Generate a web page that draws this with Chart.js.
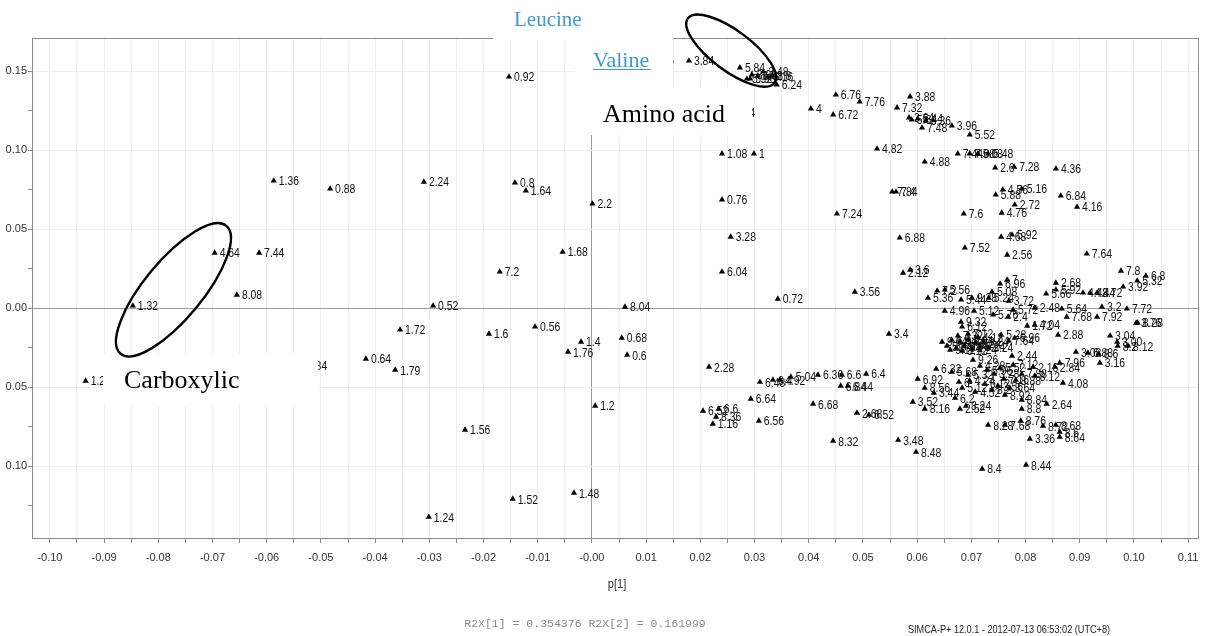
<!DOCTYPE html>
<html>
<head>
<meta charset="utf-8">
<script src="https://cdn.jsdelivr.net/npm/chart.js@4.4.0/dist/chart.umd.min.js"></script>
<style>
  html, body { margin: 0; padding: 0; background: #fff; }
</style>
</head>
<body>
<canvas id="scores-plot" width="1206" height="636"></canvas>
<script>
// score plot t[2] vs p[1], each point labelled with its ppm shift
// [label, p1, p2]
const leftScores = [
  ['1.36', -0.0587, 0.0806], ['0.88', -0.0483, 0.0755], ['2.24', -0.0310, 0.0799],
  ['0.92', -0.0153, 0.1464], ['0.8', -0.0142, 0.0793], ['1.64', -0.0122, 0.0743],
  ['4.64', -0.0696, 0.0350], ['7.44', -0.0614, 0.0350], ['8.08', -0.0655, 0.0084],
  ['1.32', -0.0847, 0.0015], ['1.28', -0.0934, -0.0460], ['1.84', -0.0535, -0.0365],
  ['0.64', -0.0417, -0.0321], ['1.79', -0.0363, -0.0391], ['1.72', -0.0354, -0.0137],
  ['7.2', -0.0170, 0.0230], ['0.52', -0.0293, 0.0015], ['1.6', -0.0190, -0.0163],
  ['0.56', -0.0105, -0.0118], ['1.68', -0.0054, 0.0356], ['1.4', -0.0020, -0.0213],
  ['1.76', -0.0044, -0.0277], ['1.56', -0.0234, -0.0770], ['1.52', -0.0146, -0.1207],
  ['1.48', -0.0033, -0.1169], ['1.24', -0.0301, -0.1321]
];

const centreScores = [
  ['2.2', 0.0001, 0.0660], ['8.04', 0.0061, 0.0008], ['0.68', 0.0055, -0.0188],
  ['0.6', 0.0065, -0.0296], ['1.2', 0.0006, -0.0618], ['1.08', 0.0240, 0.0977],
  ['1', 0.0299, 0.0977], ['0.76', 0.0240, 0.0686], ['3.28', 0.0256, 0.0451],
  ['6.04', 0.0240, 0.0230], ['0.72', 0.0343, 0.0059], ['2.28', 0.0216, -0.0372],
  ['6.52', 0.0205, -0.0650], ['6.6', 0.0234, -0.0637], ['8.36', 0.0229, -0.0688],
  ['1.16', 0.0223, -0.0732], ['6.64', 0.0293, -0.0574], ['6.56', 0.0308, -0.0713],
  ['6.48', 0.0310, -0.0467], ['6.4', 0.0334, -0.0454], ['4.92', 0.0347, -0.0454],
  ['5.04', 0.0367, -0.0435], ['7.04', 0.0255, 0.1236]
];

const valineScores = [
  ['3.76', 0.0105, 0.1565], ['3.84', 0.0179, 0.1565], ['5.84', 0.0273, 0.1521],
  ['5.92', 0.0286, 0.1451], ['5.96', 0.0292, 0.1451], ['3.98', 0.0295, 0.1477],
  ['6.08', 0.0306, 0.1470], ['3.48', 0.0316, 0.1496], ['6.16', 0.0325, 0.1464],
  ['1.8', 0.0332, 0.1470], ['6.24', 0.0341, 0.1413]
];

const upperRightScores = [
  ['4', 0.0404, 0.1262], ['6.76', 0.0450, 0.1350], ['6.72', 0.0445, 0.1224],
  ['7.76', 0.0494, 0.1306], ['3.88', 0.0587, 0.1338], ['7.32', 0.0563, 0.1268],
  ['3.64', 0.0585, 0.1205], ['5.64', 0.0590, 0.1192], ['5.44', 0.0601, 0.1198],
  ['6.36', 0.0616, 0.1186], ['7.48', 0.0609, 0.1141], ['3.96', 0.0664, 0.1154],
  ['5.52', 0.0697, 0.1097], ['4.82', 0.0526, 0.1008], ['4.88', 0.0614, 0.0926],
  ['7.44', 0.0675, 0.0977], ['7.68', 0.0697, 0.0977], ['5.08', 0.0712, 0.0977],
  ['5.48', 0.0731, 0.0977], ['2.6', 0.0744, 0.0888], ['7.28', 0.0779, 0.0894],
  ['4.36', 0.0856, 0.0882], ['4.56', 0.0758, 0.0749], ['5.16', 0.0793, 0.0755],
  ['5.88', 0.0745, 0.0717], ['2.72', 0.0780, 0.0654], ['6.84', 0.0865, 0.0711],
  ['4.16', 0.0895, 0.0641], ['7.84', 0.0554, 0.0736], ['7.4', 0.0561, 0.0736],
  ['7.24', 0.0452, 0.0597], ['7.6', 0.0686, 0.0597], ['4.76', 0.0756, 0.0603],
  ['6.88', 0.0568, 0.0445], ['7.52', 0.0688, 0.0382], ['4.68', 0.0755, 0.0451],
  ['5.92', 0.0775, 0.0464], ['2.56', 0.0766, 0.0337], ['7.64', 0.0913, 0.0344]
];

const midRightScores = [
  ['3.6', 0.0587, 0.0242], ['2.12', 0.0574, 0.0223], ['7.8', 0.0976, 0.0236],
  ['6.8', 0.1022, 0.0204], ['3.92', 0.0980, 0.0135], ['5.32', 0.1006, 0.0173],
  ['7', 0.0766, 0.0179], ['6.96', 0.0753, 0.0154], ['5.08', 0.0738, 0.0103],
  ['2.68', 0.0856, 0.0160], ['5.92', 0.0856, 0.0116], ['5.66', 0.0838, 0.0091],
  ['4.48', 0.0906, 0.0097], ['4.44', 0.0919, 0.0097], ['3.72', 0.0932, 0.0097],
  ['3.56', 0.0485, 0.0103], ['5.36', 0.0620, 0.0065], ['7.2', 0.0637, 0.0110],
  ['5.56', 0.0651, 0.0116], ['5.44', 0.0681, 0.0053], ['9.28', 0.0701, 0.0065],
  ['5.24', 0.0732, 0.0065], ['3.72', 0.0769, 0.0046], ['4.96', 0.0651, -0.0017],
  ['5.12', 0.0705, -0.0017], ['5.76', 0.0740, -0.0042], ['5.72', 0.0777, -0.0011],
  ['2.4', 0.0768, -0.0055], ['2.48', 0.0817, 0.0002], ['5.64', 0.0867, -0.0004],
  ['7.68', 0.0876, -0.0055], ['3.2', 0.0941, 0.0008], ['7.92', 0.0932, -0.0055],
  ['7.72', 0.0987, -0.0004], ['8.28', 0.1007, -0.0093], ['3.76', 0.1004, -0.0093],
  ['3.4', 0.0548, -0.0163], ['9.32', 0.0681, -0.0087], ['6.12', 0.0683, -0.0118],
  ['1.72', 0.0803, -0.0112], ['4.04', 0.0817, -0.0106], ['2.88', 0.0860, -0.0169],
  ['5.28', 0.0755, -0.0169], ['6.96', 0.0780, -0.0188], ['7.64', 0.0769, -0.0207],
  ['3.04', 0.0956, -0.0175], ['3.00', 0.0969, -0.0213]
];

const denseScores = [
  ['9.04', 0.0646, -0.0213], ['5.84', 0.0655, -0.0239], ['6.04', 0.0664, -0.0201],
  ['7.04', 0.0672, -0.0251], ['4.04', 0.0679, -0.0213], ['5.04', 0.0686, -0.0239],
  ['3.04', 0.0694, -0.0201], ['4.24', 0.0701, -0.0258], ['6.24', 0.0708, -0.0220],
  ['5.24', 0.0716, -0.0245], ['8.24', 0.0723, -0.0213], ['3.24', 0.0731, -0.0251],
  ['7.32', 0.0675, -0.0175], ['7.12', 0.0694, -0.0163], ['4.12', 0.0712, -0.0182],
  ['9.12', 0.0661, -0.0264], ['3.12', 0.0683, -0.0270]
];

const lowerRightScores = [
  ['6.36', 0.0417, -0.0422], ['6.6', 0.0461, -0.0422], ['6.4', 0.0506, -0.0416],
  ['6.44', 0.0472, -0.0492], ['6.84', 0.0459, -0.0492], ['6.68', 0.0408, -0.0606],
  ['2.68', 0.0489, -0.0663], ['6.52', 0.0511, -0.0675], ['8.32', 0.0445, -0.0840],
  ['3.48', 0.0565, -0.0834], ['8.48', 0.0598, -0.0910], ['8.4', 0.0720, -0.1017],
  ['8.44', 0.0801, -0.0992], ['6.32', 0.0635, -0.0384], ['6.92', 0.0601, -0.0448],
  ['8.56', 0.0614, -0.0504], ['3.44', 0.0631, -0.0536], ['6.2', 0.0670, -0.0568],
  ['5.68', 0.0664, -0.0403], ['6', 0.0677, -0.0467], ['4.24', 0.0697, -0.0460],
  ['3.52', 0.0592, -0.0593], ['8.16', 0.0614, -0.0637], ['2.52', 0.0679, -0.0637],
  ['8.24', 0.0690, -0.0618], ['8.28', 0.0731, -0.0739], ['7.68', 0.0762, -0.0739],
  ['8.76', 0.0791, -0.0713], ['8.72', 0.0832, -0.0745], ['8.68', 0.0856, -0.0739],
  ['3.36', 0.0808, -0.0827], ['8.64', 0.0863, -0.0815], ['8.6', 0.0863, -0.0783],
  ['8.84', 0.0793, -0.0580], ['8.8', 0.0793, -0.0637], ['2.64', 0.0839, -0.0606],
  ['4.08', 0.0869, -0.0473], ['2.84', 0.0854, -0.0372], ['7.96', 0.0863, -0.0346],
  ['3.08', 0.0893, -0.0277], ['6.88', 0.0915, -0.0283], ['8.6', 0.0935, -0.0289],
  ['3.16', 0.0937, -0.0346], ['8.2', 0.0970, -0.0239], ['8.12', 0.0989, -0.0239],
  ['2.44', 0.0775, -0.0302], ['7.12', 0.0777, -0.0359], ['2.16', 0.0814, -0.0372],
  ['8.12', 0.0817, -0.0429], ['9.26', 0.0703, -0.0327], ['4.28', 0.0716, -0.0365],
  ['5.96', 0.0729, -0.0391], ['3.28', 0.0742, -0.0416], ['5.52', 0.0753, -0.0378],
  ['7.16', 0.0760, -0.0448], ['3.56', 0.0749, -0.0492], ['8.2', 0.0738, -0.0517],
  ['3.64', 0.0771, -0.0504], ['8.88', 0.0782, -0.0454], ['7.88', 0.0793, -0.0416],
  ['6.12', 0.0725, -0.0479], ['8.92', 0.0762, -0.0549], ['5.32', 0.0694, -0.0422],
  ['5.12', 0.0683, -0.0504], ['4.52', 0.0707, -0.0530]
];

const p1Range = [-0.1033, 0.1120];
const p2Range = [-0.1454, 0.1709];

// hand drawn ellipses, centred in data units
const ellipses = [
  { p1: 0.0257, p2: 0.1629, rx: 54, ry: 20, rot: 0.64 },   // valine / leucine
  { p1: -0.0772, p2: 0.0116, rx: 83, ry: 29, rot: -0.88 }  // carboxylic
];

const SANS = "'Liberation Sans', Arial, sans-serif";
const SERIF = "'Liberation Serif', 'Times New Roman', serif";

function toPoints(rows) {
  return rows.map(([label, p1, p2]) => ({ x: p1, y: p2, label }));
}

// SIMCA exports use a condensed face, squeeze the text horizontally
function narrowText(ctx, text, x, y, sx) {
  ctx.save();
  ctx.translate(x, y);
  ctx.scale(sx, 1);
  ctx.fillText(text, 0, 0);
  ctx.restore();
}

const allGroups = [leftScores, centreScores, valineScores, upperRightScores,
  midRightScores, denseScores, lowerRightScores];

// frame around the plot area (chart.js only draws bottom/left)
const frame = {
  id: 'frame',
  beforeDatasetsDraw(chart) {
    const { ctx, chartArea: a } = chart;
    const l = Math.round(a.left), t = Math.round(a.top);
    const r = Math.round(a.right), b = Math.round(a.bottom);
    ctx.save();
    ctx.strokeStyle = '#8c8c8c';
    ctx.lineWidth = 1;
    ctx.strokeRect(l + 0.5, t + 0.5, r - l - 1, b - t);
    ctx.restore();
  }
};

const scoreLabels = {
  id: 'scoreLabels',
  afterDatasetsDraw(chart) {
    const ctx = chart.ctx;
    ctx.save();
    ctx.font = '13px ' + SANS;
    ctx.fillStyle = '#111';
    ctx.textBaseline = 'middle';
    chart.data.datasets.forEach((ds, i) => {
      chart.getDatasetMeta(i).data.forEach((pt, j) => {
        narrowText(ctx, ds.data[j].label, pt.x + 5, pt.y + 1, 0.8);
      });
    });
    ctx.restore();
  }
};

// the pasted text boxes and circles on top of the exported plot
const overlays = {
  id: 'overlays',
  afterDatasetsDraw(chart) {
    const { ctx, scales: { x, y } } = chart;
    ctx.save();
    ctx.fillStyle = '#fff';
    ctx.fillRect(493, 0, 180, 40);    // Leucine
    ctx.fillRect(573, 40, 100, 47);   // Valine
    ctx.fillRect(573, 87, 179, 48);   // Amino acid
    ctx.fillRect(103, 354, 215, 51);  // Carboxylic

    ctx.strokeStyle = '#000';
    ctx.lineWidth = 2.4;
    ellipses.forEach(e => {
      ctx.beginPath();
      ctx.ellipse(x.getPixelForValue(e.p1), y.getPixelForValue(e.p2),
        e.rx, e.ry, e.rot, 0, Math.PI * 2);
      ctx.stroke();
    });

    ctx.fillStyle = '#3b9ad6';
    ctx.textAlign = 'left';
    ctx.textBaseline = 'alphabetic';
    ctx.font = '21px ' + SERIF;
    ctx.fillText('Leucine', 514, 26);
    ctx.font = '22px ' + SERIF;
    ctx.fillText('Valine', 593, 67);
    ctx.strokeStyle = '#3b9ad6';
    ctx.lineWidth = 1;
    ctx.beginPath();
    ctx.moveTo(593, 69.5);
    ctx.lineTo(651, 69.5);
    ctx.stroke();

    ctx.fillStyle = '#000';
    ctx.font = '26px ' + SERIF;
    ctx.fillText('Amino acid', 603, 122);
    ctx.fillText('Carboxylic', 124, 388);

    ctx.textAlign = 'center';
    ctx.textBaseline = 'middle';
    ctx.fillStyle = '#333';
    ctx.font = '13px ' + SANS;
    narrowText(ctx, 'p[1]', 617, 584, 0.85);
    ctx.fillStyle = '#8a8a8a';
    ctx.font = "11.5px 'Liberation Mono', 'DejaVu Sans Mono', monospace";
    ctx.fillText('R2X[1] = 0.354376 R2X[2] = 0.161999', 585, 624);
    ctx.fillStyle = '#222';
    ctx.font = '10.5px ' + SANS;
    narrowText(ctx, 'SIMCA-P+ 12.0.1 - 2012-07-13 06:53:02 (UTC+8)', 1009, 630, 0.87);
    ctx.restore();
  }
};

const isStep = (v, step) => Math.abs(Math.round(v * 1000) % step) === 0;

const ctxScores = document.getElementById('scores-plot').getContext('2d');
const scoresChart = new Chart(ctxScores, {
  type: 'scatter',
  data: {
    datasets: allGroups.map(g => ({
      data: toPoints(g),
      pointStyle: 'triangle',
      pointRadius: 3.6,
      pointHoverRadius: 3.6,
      backgroundColor: '#000',
      borderWidth: 0,
    })),
  },
  options: {
    responsive: false,
    animation: false,
    devicePixelRatio: 1,
    layout: { padding: { top: 38, right: 7, left: 0, bottom: 0 } },
    plugins: {
      legend: { display: false },
      tooltip: { enabled: false },
    },
    scales: {
      x: {
        type: 'linear',
        min: p1Range[0],
        max: p1Range[1],
        // fixed box, and do not let the end labels push the plot inwards
        afterFit: (s) => { s.height = 98; s.paddingLeft = 0; s.paddingRight = 0; },
        border: { display: false },
        grid: {
          color: (c) => (Math.abs(c.tick.value) < 1e-9 ? '#9a9a9a' : '#efefef'),
          tickColor: '#8c8c8c',
          tickLength: 5,
        },
        ticks: {
          stepSize: 0.005,
          includeBounds: false,
          autoSkip: false,
          maxRotation: 0,
          padding: 8,
          color: '#333',
          font: { family: SANS, size: 11 },
          callback: (v) => {
            if (!isStep(v, 10)) return '';
            if (Math.abs(v) < 1e-9) return '-0.00';
            return v.toFixed(2);
          },
        },
      },
      y: {
        type: 'linear',
        min: p2Range[0],
        max: p2Range[1],
        afterFit: (s) => { s.width = 32; },
        border: { display: false },
        grid: {
          color: (c) => {
            const v = c.tick.value;
            if (Math.abs(v) < 1e-9) return '#9a9a9a';
            return isStep(v, 50) ? '#efefef' : 'rgba(0,0,0,0)';
          },
          tickColor: '#8c8c8c',
          tickLength: 4,
        },
        ticks: {
          stepSize: 0.025,
          includeBounds: false,
          autoSkip: false,
          padding: 1,
          color: '#333',
          font: { family: SANS, size: 11 },
          // the exported plot lost its minus signs on this axis
          callback: (v) => (isStep(v, 50) ? Math.abs(v).toFixed(2) : ''),
        },
      },
    },
  },
  plugins: [frame, scoreLabels, overlays],
});
</script>
</body>
</html>
